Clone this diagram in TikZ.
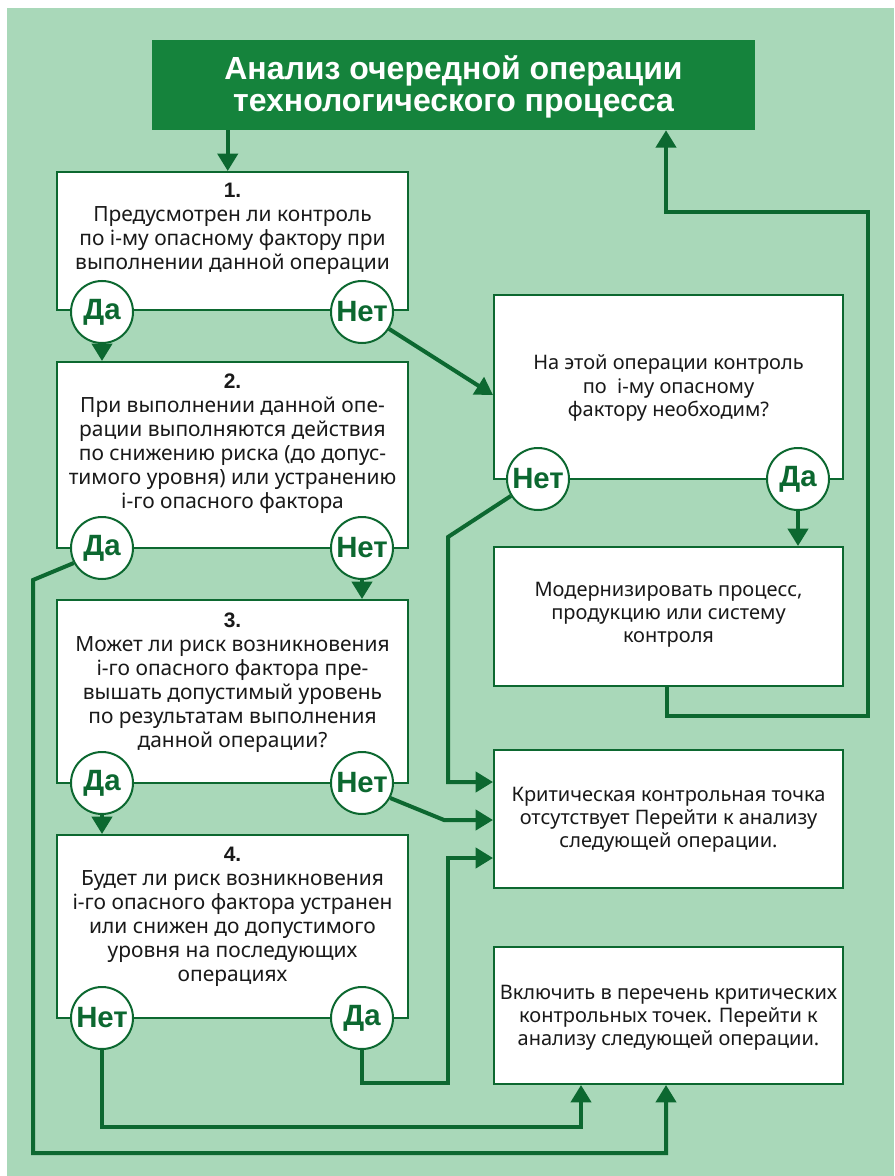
\documentclass[tikz,border=0pt]{standalone}
\usepackage{fontspec}
\setmainfont{Noto Sans}
\newfontfamily\bff{Liberation Sans}
\usetikzlibrary{arrows.meta,calc,fit}
\definecolor{bg}{RGB}{169,216,185}
\definecolor{tfill}{RGB}{21,131,60}
\definecolor{dg}{RGB}{12,104,48}
\definecolor{txt}{RGB}{25,25,25}
\newcommand{\nb}[1]{{\bff\bfseries #1}}
\begin{document}
\begin{tikzpicture}[x=0.75pt,y=-0.75pt,
  box/.style={draw=dg,line width=1.5pt,fill=white,inner sep=0pt},
  circ/.style={circle,draw=dg,line width=1.5pt,fill=white,inner sep=0pt,minimum size=46.5pt,
    text=dg,font=\fontsize{22}{22}\bff\bfseries},
  btxt/.style={text=txt,align=center,font=\fontsize{15.7}{18}\selectfont},
  rtxt/.style={text=txt,align=center,font=\fontsize{15}{17.4}\selectfont},
  arr/.style={draw=dg,line width=3pt,-{Triangle[length=13pt,width=15pt]}}]
\useasboundingbox (0,0) rectangle (894,1176);
\fill[white] (0,0) rectangle (894,1176);
\fill[bg] (7,8) rectangle (894,1176);
% title
\node[fill=tfill,fit={(152,40) (755,130)},inner sep=0pt] (title) {};
\node[text=white,align=center,font=\fontsize{24}{24}\bff\bfseries] (ttl) at (453.5,87) {Анализ очередной операции\\технологического процесса};
% left boxes
\node[box,fit={(57,172) (408,310)}] (b1) {};
\node[box,fit={(57,362) (408,548)}] (b2) {};
\node[box,fit={(57,600) (408,783)}] (b3) {};
\node[box,fit={(57,835) (408,1018)}] (b4) {};
% right boxes
\node[box,fit={(494,295) (843,479)}] (r1) {};
\node[box,fit={(494,547) (843,686)}] (r2) {};
\node[box,fit={(494,750) (843,888)}] (r3) {};
\node[box,fit={(494,947) (843,1084)}] (r4) {};
% texts
\node[btxt] (t1) at (232.5,229) {\nb{1.}\\Предусмотрен ли контроль\\по i-му опасному фактору при\\выполнении данной операции};
\node[btxt] (t2) at (232.5,444) {\nb{2.}\\При выполнении данной опе-\\рации выполняются действия\\по снижению риска (до допус-\\тимого уровня) или устранению\\i-го опасного фактора};
\node[btxt] (t3) at (232.5,683) {\nb{3.}\\Может ли риск возникновения\\i-го опасного фактора пре-\\вышать допустимый уровень\\по результатам выполнения\\данной операции?};
\node[btxt] (t4) at (232.5,917) {\nb{4.}\\Будет ли риск возникновения\\i-го опасного фактора устранен\\или снижен до допустимого\\уровня на последующих\\операциях};
\node[rtxt] (tr1) at (668.5,388) {На этой операции контроль\\по\ \ i-му опасному\\фактору необходим?};
\node[rtxt] (tr2) at (668.5,615) {Модернизировать процесс,\\продукцию или систему\\контроля};
\node[rtxt] (tr3) at (668.5,820) {Критическая контрольная точка\\отсутствует Перейти к анализу\\следующей операции.};
\node[rtxt] (tr4) at (668.5,1018) {Включить в перечень критических\\контрольных точек. Перейти к\\анализу следующей операции.};
% circles
\node[circ] (b1y) at (102,312) {Да};
\node[circ] (b1n) at (362,312) {Нет};
\node[circ] (b2y) at (102,548) {Да};
\node[circ] (b2n) at (362,548) {Нет};
\node[circ] (b3y) at (102,783) {Да};
\node[circ] (b3n) at (362,783) {Нет};
\node[circ] (b4n) at (102,1018) {Нет};
\node[circ] (b4y) at (362,1018) {Да};
\node[circ] (r1n) at (538,479) {Нет};
\node[circ] (r1y) at (798,479) {Да};
% bend coordinates
\coordinate (k1) at (448,537);
\coordinate (k2) at (448,782);
\coordinate (k3) at (444,820);
\coordinate (k4) at (362,1083);
\coordinate (k5) at (448,1083);
\coordinate (k6) at (448,858);
\coordinate (k7) at (102,1127);
\coordinate (k8) at (581,1127);
\coordinate (k9) at (33,580);
\coordinate (k10) at (33,1153);
\coordinate (k11) at (666,1153);
\coordinate (k12) at (667,716);
\coordinate (k13) at (868,716);
\coordinate (k14) at (868,212);
\coordinate (k15) at (666,212);
% connectors
\draw[arr] ([xshift=57pt]title.south west) -- ([xshift=57pt]title.south west |- b1.north);
\draw[arr] (b1y.south) -- (b1y.south |- b2.north);
\draw[arr] (b2n.south) -- (b2n.south |- b3.north);
\draw[arr] (b3y.south) -- (b3y.south |- b4.north);
\draw[arr] (r1y.south) -- (r1y.south |- r2.north);
\draw[arr] (b1n.-32) -- ([yshift=-6pt]r1.west);
\draw[arr] (r1n.212) -- (k1) -- (k2) -- (k2 -| r3.west);
\draw[arr] (b3n.-28) -- (k3) -- (k3 -| r3.west);
\draw[arr] (b4y.south) -- (k4) -- (k5) -- (k6) -- (k6 -| r3.west);
\draw[arr] (b4n.south) -- (k7) -- (k8) -- (k8 |- r4.south);
\draw[arr] (b2y.208) -- (k9) -- (k10) -- (k11) -- (k11 |- r4.south);
\draw[arr] (k12 |- r2.south) -- (k12) -- (k13) -- (k14) -- (k15) -- (k15 |- title.south);
\end{tikzpicture}
\end{document}
